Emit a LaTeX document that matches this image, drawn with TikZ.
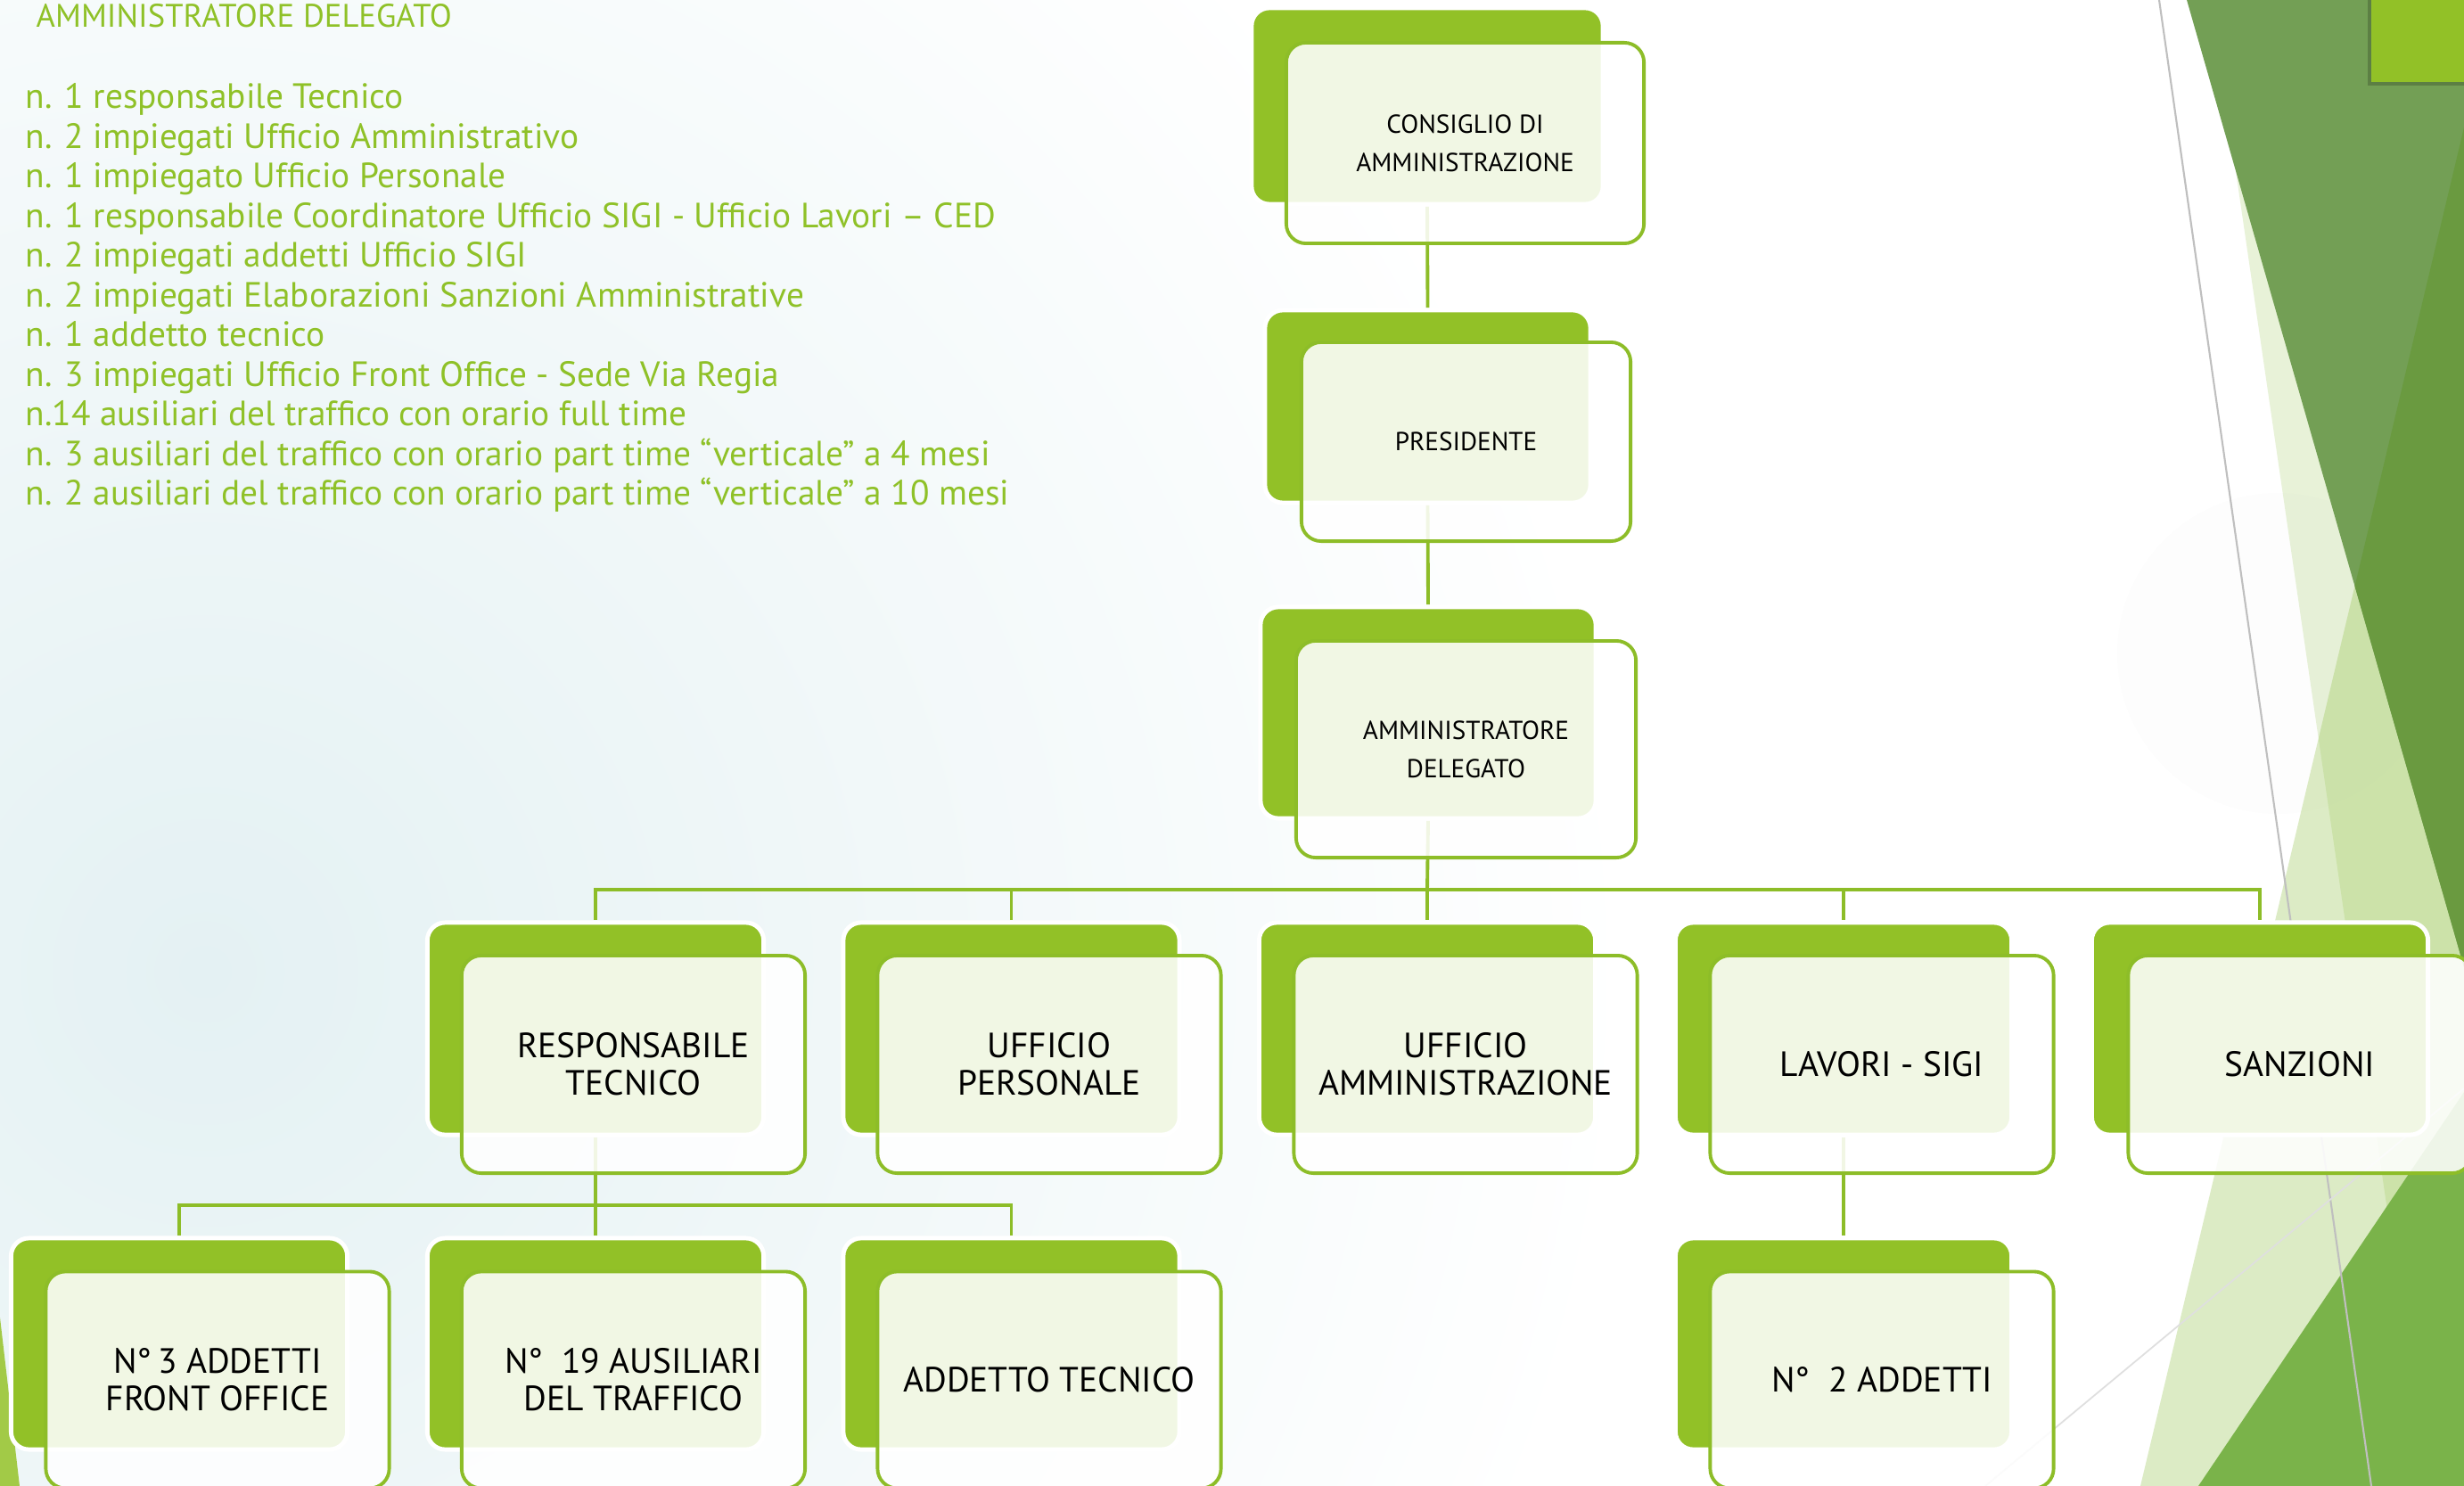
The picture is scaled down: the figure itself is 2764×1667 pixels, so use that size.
\documentclass[tikz,border=0pt]{standalone}
\usepackage{fontspec}
\setmainfont{PT Sans}
\usepackage{tikz}

\definecolor{boxgreen}{RGB}{146,193,39}
\definecolor{linegreen}{RGB}{141,189,40}
\definecolor{textgreen}{RGB}{143,193,40}
\definecolor{darkleaf}{RGB}{115,159,85}
\definecolor{deepleaf}{RGB}{106,154,64}
\definecolor{grassleaf}{RGB}{122,179,74}
\definecolor{paleleaf}{RGB}{141,192,63}
\definecolor{mist}{RGB}{228,241,243}

\pgfdeclarelayer{bg}
\pgfdeclarelayer{links}
\pgfsetlayers{bg,links,main}

\begin{document}
\begin{tikzpicture}[x=0.01cm, y=-0.01cm,
	greentab/.style={fill=boxgreen, draw=white, line width=1.4pt, rounded corners=0.2cm, inner sep=0pt},
	cardbox/.style={fill=white, fill opacity=0.88, text opacity=1, draw=linegreen, line width=1.1pt, rounded corners=0.22cm, inner sep=0pt, align=center},
	toptext/.style={font=\fontsize{8.3}{12.2}\selectfont},
	rowtext/.style={font=\fontsize{11.2}{11.9}\selectfont},
	link/.style={linegreen, line width=1.1pt},
	staff/.style={anchor=base west, inner sep=0pt, text=textgreen, font=\fontsize{11.2}{12.7}\selectfont}]
		\useasboundingbox (0,0) rectangle (2764,1667);
		
		% background of the slide
		\begin{pgfonlayer}{bg}
		\clip (0,0) rectangle (2764,1667);
		\fill[white] (0,0) rectangle (2764,1667);
		\shade[inner color=mist, outer color=white] (230,1090) circle (16cm);
		\fill[black, opacity=0.006] (2555,733) circle (1.8cm);
		\fill[paleleaf, opacity=0.2] (2480,0) -- (2723,1667) -- (2764,1667) -- (2764,0) -- cycle;
		\fill[paleleaf, opacity=0.3] (2764,143) -- (2401,1667) -- (2764,1667) -- cycle;
		\fill[darkleaf] (2453,0) -- (2764,0) -- (2764,1085) -- cycle;
		\fill[deepleaf] (2764,143) -- (2641.5,657.6) -- (2764,1085) -- cycle;
		\fill[grassleaf] (2764,1225) -- (2466,1667) -- (2764,1667) -- cycle;
		\draw[gray!50, line width=0.6pt] (2422,0) -- (2660,1667);
		\draw[gray!25, line width=0.5pt] (2227,1667) -- (2764,1221);
		\fill[black, opacity=0.2] (2656,0) rectangle (2764,96);
		\fill[boxgreen] (2660,0) rectangle (2764,92);
		\fill[boxgreen!85!white] (0,1478) -- (22,1667) -- (0,1667) -- cycle;
		\end{pgfonlayer}
		
		% staff list
		\node[anchor=base west, inner sep=0pt, text=textgreen, font=\fontsize{10.4}{12.7}\selectfont] (adtitle) at (40,30.6) {AMMINISTRATORE DELEGATO};
		\node[staff] (staff1) at (28,121.7) {n. 1 responsabile Tecnico};
		\node[staff] (staff2) at (28,166.2) {n. 2 impiegati Ufficio Amministrativo};
		\node[staff] (staff3) at (28,210.7) {n. 1 impiegato Ufficio Personale};
		\node[staff] (staff4) at (28,255.2) {n. 1 responsabile Coordinatore Ufficio SIGI - Ufficio Lavori – CED};
		\node[staff] (staff5) at (28,299.7) {n. 2 impiegati addetti Ufficio SIGI};
		\node[staff] (staff6) at (28,344.2) {n. 2 impiegati Elaborazioni Sanzioni Amministrative};
		\node[staff] (staff7) at (28,388.7) {n. 1 addetto tecnico};
		\node[staff] (staff8) at (28,433.2) {n. 3 impiegati Ufficio Front Office - Sede Via Regia};
		\node[staff] (staff9) at (28,477.7) {n.14 ausiliari del traffico con orario full time};
		\node[staff] (staff10) at (28,522.2) {n. 3 ausiliari del traffico con orario part time “verticale” a 4 mesi};
		\node[staff] (staff11) at (28,566.7) {n. 2 ausiliari del traffico con orario part time “verticale” a 10 mesi};
		
		% top chain
		\node[greentab, minimum width=3.94cm, minimum height=2.2cm] (cda) at (1601,119) {};
		\node[cardbox, toptext, minimum width=4.01cm, minimum height=2.25cm] (cda-t) at (1643.5,160.5) {CONSIGLIO DI\\AMMINISTRAZIONE};
		\node[greentab, minimum width=3.65cm, minimum height=2.16cm] (pres) at (1601.5,456) {};
		\node[cardbox, toptext, minimum width=3.69cm, minimum height=2.23cm] (pres-t) at (1644.5,495.5) {PRESIDENTE};
		\node[greentab, minimum width=3.76cm, minimum height=2.37cm] (ad) at (1602,799.5) {};
		\node[cardbox, toptext, minimum width=3.81cm, minimum height=2.43cm] (ad-t) at (1644.5,840.5) {AMMINISTRATORE\\DELEGATO};
		
		% offices
		\node[greentab, minimum width=3.77cm, minimum height=2.38cm] (resp) at (668,1154) {};
		\node[cardbox, rowtext, minimum width=3.85cm, minimum height=2.44cm] (resp-t) at (710.5,1194) {RESPONSABILE\\TECNICO};
		\node[greentab, minimum width=3.77cm, minimum height=2.38cm] (pers) at (1134.5,1154) {};
		\node[cardbox, rowtext, minimum width=3.85cm, minimum height=2.44cm] (pers-t) at (1177,1194) {UFFICIO\\PERSONALE};
		\node[greentab, minimum width=3.77cm, minimum height=2.38cm] (uamm) at (1601,1154) {};
		\node[cardbox, rowtext, minimum width=3.85cm, minimum height=2.44cm] (uamm-t) at (1644,1194) {UFFICIO\\AMMINISTRAZIONE};
		\node[greentab, minimum width=3.77cm, minimum height=2.38cm] (lav) at (2068,1154) {};
		\node[cardbox, rowtext, minimum width=3.85cm, minimum height=2.44cm] (lav-t) at (2111,1194) {LAVORI - SIGI};
		\node[greentab, minimum width=3.77cm, minimum height=2.38cm] (sanz) at (2535,1154) {};
		\node[cardbox, rowtext, minimum width=3.85cm, minimum height=2.44cm] (sanz-t) at (2580,1194) {SANZIONI};
		
		% staff under the offices
		\node[greentab, minimum width=3.77cm, minimum height=2.37cm] (fo) at (201,1507.5) {};
		\node[cardbox, rowtext, minimum width=3.85cm, minimum height=2.43cm] (fo-t) at (244,1548) {N°\,3 ADDETTI\\FRONT OFFICE};
		\node[greentab, minimum width=3.77cm, minimum height=2.37cm] (aus) at (668,1507.5) {};
		\node[cardbox, rowtext, minimum width=3.85cm, minimum height=2.43cm] (aus-t) at (710.5,1548) {N°~~19 AUSILIARI\\DEL TRAFFICO};
		\node[greentab, minimum width=3.77cm, minimum height=2.37cm] (at) at (1134.5,1507.5) {};
		\node[cardbox, rowtext, minimum width=3.85cm, minimum height=2.43cm] (at-t) at (1177,1548) {ADDETTO TECNICO};
		\node[greentab, minimum width=3.77cm, minimum height=2.37cm] (n2) at (2068,1507.5) {};
		\node[cardbox, rowtext, minimum width=3.85cm, minimum height=2.43cm] (n2-t) at (2111,1548) {N°~~2 ADDETTI};
		
		% connectors
		\begin{pgfonlayer}{links}
		\coordinate (adbus) at (1601,998);
		\coordinate (respbus) at (668,1352);
		\draw[link] (cda.south) -- (pres.north);
		\draw[link] (pres.south) -- (ad.north);
		\draw[link] (ad.south) -- (adbus);
		\draw[link] (adbus) -| (resp.north);
		\draw[link] (adbus) -| (pers.north);
		\draw[link] (adbus) -- (uamm.north);
		\draw[link] (adbus) -| (lav.north);
		\draw[link] (adbus) -| (sanz.north);
		\draw[link] (resp.south) -- (respbus);
		\draw[link] (respbus) -| (fo.north);
		\draw[link] (respbus) -- (aus.north);
		\draw[link] (respbus) -| (at.north);
		\draw[link] (lav.south) -- (n2.north);
		\end{pgfonlayer}
	    \end{tikzpicture}
\end{document}
